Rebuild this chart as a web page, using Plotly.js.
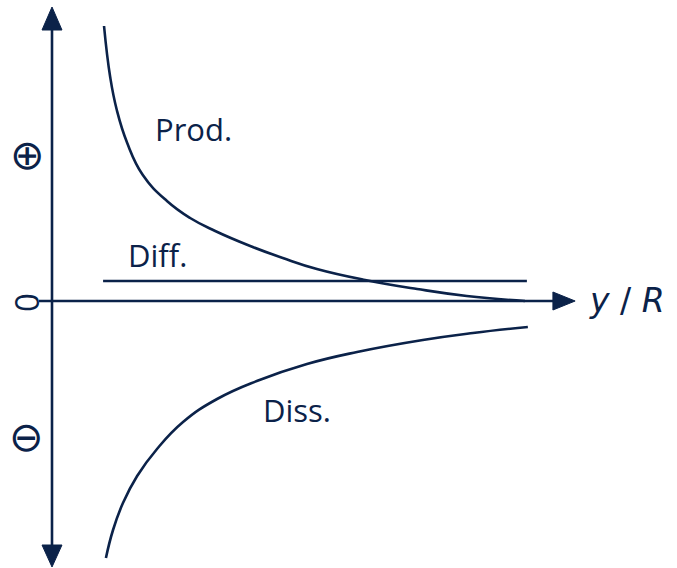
<!DOCTYPE html>
<html>
<head>
<meta charset="utf-8">
<script src="https://cdn.plot.ly/plotly-3.0.1.min.js"></script>
<style>
  html, body { margin: 0; padding: 0; background: #ffffff; }
  #chart { width: 677px; height: 568px; }
</style>
</head>
<body>
<div id="chart"></div>
<script>
// Budget terms against distance y/R (schematic, arbitrary units; 0 = no net contribution)
const prodX = [0.110, 0.123, 0.137, 0.159, 0.192, 0.243, 0.292, 0.345, 0.419, 0.488, 0.560, 0.662, 0.772, 0.877, 1.000];
const prodY = [1.100, 0.896, 0.764, 0.632, 0.504, 0.400, 0.332, 0.280, 0.220, 0.172, 0.128, 0.084, 0.048, 0.020, 0.000];

const diffX = [0.108, 1.004];
const diffY = [0.080, 0.080];

const dissX = [0.114, 0.129, 0.150, 0.180, 0.222, 0.277, 0.349, 0.433, 0.539, 0.645, 0.784, 0.890, 1.006];
const dissY = [-1.028, -0.916, -0.808, -0.700, -0.592, -0.484, -0.392, -0.320, -0.252, -0.204, -0.156, -0.128, -0.104];

const termLabels = ['Prod.', 'Diff.', 'Diss.'];
const signLabels = ['\u2295', '0', '\u2296'];
const axisLabel = '<i>y</i> / <i>R</i>';

const ink = '#0b2249';
const lineStyle = { color: ink, width: 2.6 };
const curveStyle = Object.assign({ shape: 'spline', smoothing: 1.3 }, lineStyle);

const traces = [
  { x: prodX, y: prodY, mode: 'lines', line: curveStyle, hoverinfo: 'skip' },
  { x: diffX, y: diffY, mode: 'lines', line: lineStyle, hoverinfo: 'skip' },
  { x: dissX, y: dissY, mode: 'lines', line: curveStyle, hoverinfo: 'skip' }
];

// axes drawn as arrows: vertical double arrow, horizontal arrow to the right
const hw = 0.0211, hh = 0.036;
const shapes = [
  { type: 'line', x0: 0, x1: 0, y0: -0.99, y1: 1.09, line: { color: ink, width: 2.6 } },
  { type: 'path', path: `M ${-hw} 1.084 L 0 1.176 L ${hw} 1.084 Z`, fillcolor: ink, line: { color: ink, width: 1 } },
  { type: 'path', path: `M ${-hw} -0.976 L 0 -1.064 L ${hw} -0.976 Z`, fillcolor: ink, line: { color: ink, width: 1 } },
  { type: 'line', x0: -0.0275, x1: 1.065, y0: 0, y1: 0, line: { color: ink, width: 2.6 } },
  { type: 'path', path: `M 1.059 ${hh} L 1.106 0 L 1.059 ${-hh} Z`, fillcolor: ink, line: { color: ink, width: 1 } }
];

const textFont = { family: 'Open Sans, Noto Sans, sans-serif', size: 31, color: ink };
const signFont = { family: 'DejaVu Sans', size: 41, color: ink };
const annotations = [
  { x: 0.300, y: 0.690, text: termLabels[0], showarrow: false, font: textFont },
  { x: 0.222, y: 0.186, text: termLabels[1], showarrow: false, font: textFont },
  { x: 0.518, y: -0.434, text: termLabels[2], showarrow: false, font: textFont },
  { x: -0.053, y: 0.584, text: signLabels[0], showarrow: false, font: signFont },
  { x: -0.055, y: -0.004, text: signLabels[1], showarrow: false, textangle: -90, font: { family: 'Open Sans, sans-serif', size: 33, color: ink } },
  { x: -0.055, y: -0.544, text: signLabels[2], showarrow: false, font: signFont },
  { x: 1.216, y: 0.004, text: axisLabel, showarrow: false, font: { family: 'DejaVu Sans, sans-serif', size: 33, color: ink } }
];

const hidden = { visible: false, fixedrange: true };
const layout = {
  width: 677, height: 568,
  margin: { l: 0, r: 0, t: 0, b: 0 },
  paper_bgcolor: '#ffffff', plot_bgcolor: '#ffffff',
  showlegend: false,
  xaxis: Object.assign({ range: [-52 / 473, 625 / 473] }, hidden),
  yaxis: Object.assign({ range: [-267 / 250, 301 / 250] }, hidden),
  shapes: shapes,
  annotations: annotations
};

Plotly.newPlot('chart', traces, layout, { displayModeBar: false, staticPlot: true });
</script>
</body>
</html>
